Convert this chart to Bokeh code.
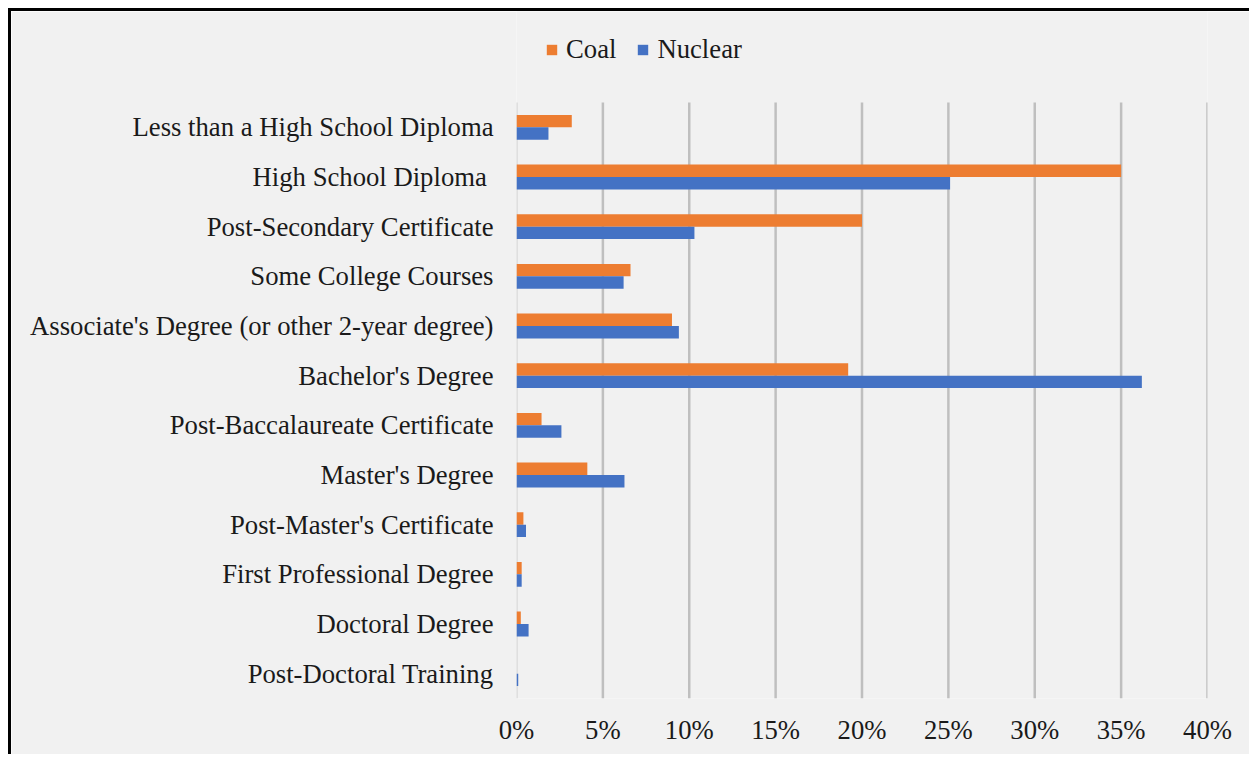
from bokeh.plotting import figure
from bokeh.models import (ColumnDataSource, Range1d, FixedTicker,
                          PrintfTickFormatter, Legend, LegendItem)
from bokeh.transform import dodge
from bokeh.embed import file_html
from bokeh.resources import INLINE

categories = [
    "Less than a High School Diploma",
    "High School Diploma ",
    "Post-Secondary Certificate",
    "Some College Courses",
    "Associate's Degree (or other 2-year degree)",
    "Bachelor's Degree",
    "Post-Baccalaureate Certificate",
    "Master's Degree",
    "Post-Master's Certificate",
    "First Professional Degree",
    "Doctoral Degree",
    "Post-Doctoral Training",
]
coal = [3.2, 35.0, 20.0, 6.6, 9.0, 19.2, 1.45, 4.1, 0.4, 0.3, 0.25, 0.0]
nuclear = [1.85, 25.1, 10.3, 6.2, 9.4, 36.2, 2.6, 6.25, 0.55, 0.3, 0.7, 0.1]
x_ticks = [0, 5, 10, 15, 20, 25, 30, 35, 40]

FONT = "Liberation Serif"
TXT = "#1a1a1a"
FS = "26.7px"

n = len(categories)
ypos = [n - 1 - i for i in range(n)]  # top category highest
src = ColumnDataSource(dict(y=ypos, coal=coal, nuclear=nuclear))

top_extra = 91 / (596 / n)  # room above the categories for the legend
p = figure(
    width=1241, height=746,
    y_range=Range1d(-0.5, n - 0.5 + top_extra),
    x_range=Range1d(0, 40),
    output_backend="svg", toolbar_location=None,
    min_border_left=505, min_border_right=45,
    min_border_top=0, min_border_bottom=59,
    background_fill_color="#f1f1f1", border_fill_color="#f1f1f1",
    styles={"border-top": "3px solid black", "border-left": "3px solid black"},
)
p.margin = (8, 0, 0, 8)
p.outline_line_color = None
p.xgrid.grid_line_color = None
p.ygrid.grid_line_color = None

# vertical gridlines spanning only the category region
grid_src = ColumnDataSource(dict(x=x_ticks[1:], y0=[-0.5] * (len(x_ticks) - 1),
                                 y1=[n - 0.5] * (len(x_ticks) - 1)))
p.segment(x0="x", x1="x", y0="y0", y1="y1", source=grid_src,
          line_color="#bfbfbf", line_width=2.5)
p.segment(x0=[x_ticks[0]], x1=[x_ticks[0]], y0=[-0.5], y1=[n - 0.5],
          line_color="#d9d9d9", line_width=2.5)

r_coal = p.hbar(y=dodge("y", 0.125), right="coal", left=0, height=0.25,
                source=src, fill_color="#ed7d31", line_color=None)
r_nuc = p.hbar(y=dodge("y", -0.125), right="nuclear", left=0, height=0.25,
               source=src, fill_color="#4472c4", line_color=None)

p.xaxis.ticker = FixedTicker(ticks=x_ticks)
p.xaxis.formatter = PrintfTickFormatter(format="%d%%")
p.xaxis.axis_line_color = None
p.xaxis.major_tick_line_color = None
p.xaxis.minor_tick_line_color = None
p.xaxis.major_tick_out = 0
p.xaxis.major_label_standoff = 16
p.xaxis.major_label_text_font = FONT
p.xaxis.major_label_text_font_size = FS
p.xaxis.major_label_text_color = TXT

p.yaxis.ticker = FixedTicker(ticks=ypos)
p.yaxis.major_label_overrides = {yy: c for yy, c in zip(ypos, categories)}
p.yaxis.axis_line_color = None
p.yaxis.major_tick_line_color = None
p.yaxis.minor_tick_line_color = None
p.yaxis.major_tick_out = 0
p.yaxis.major_label_standoff = 23
p.yaxis.major_label_text_font = FONT
p.yaxis.major_label_text_font_size = FS
p.yaxis.major_label_text_color = TXT

legend = Legend(
    items=[LegendItem(label="Coal", renderers=[r_coal]),
           LegendItem(label="Nuclear", renderers=[r_nuc])],
    orientation="horizontal",
    location=(29, 633),
    label_text_font=FONT, label_text_font_size=FS, label_text_color=TXT,
    glyph_width=13, glyph_height=13, label_standoff=8, spacing=20,
    padding=0, margin=0, border_line_color=None, background_fill_alpha=0,
    label_height=20,
)
p.add_layout(legend, "center")

open("out.html", "w").write(file_html(p, INLINE))
